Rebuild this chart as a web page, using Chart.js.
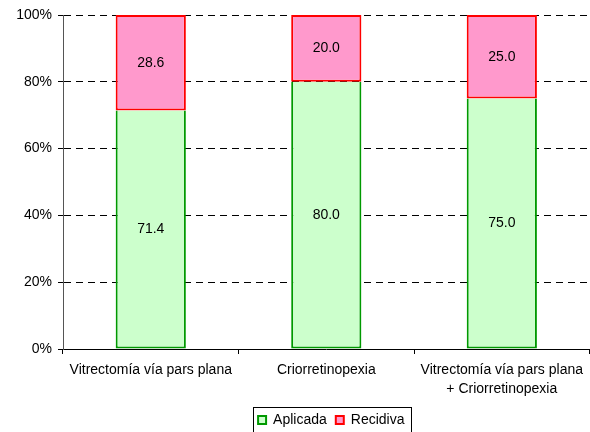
<!DOCTYPE html>
<html>
<head>
<meta charset="utf-8">
<script src="https://cdn.jsdelivr.net/npm/chart.js@4/dist/chart.umd.min.js"></script>
<style>
  html, body { margin: 0; padding: 0; background: #fff; }
  #wrap { width: 590px; height: 432px; }
</style>
</head>
<body>
<div id="wrap"><canvas id="chart"></canvas></div>
<script>
// categories and percentages
const categories = [
    "Vitrectomía vía pars plana",
    "Criorretinopexia",
    ["Vitrectomía vía pars plana", "+ Criorretinopexia"]
];
const aplicada = [71.4, 80.0, 75.0];
const recidiva = [28.6, 20.0, 25.0];
const yTicks = [0, 20, 40, 60, 80, 100];

const FONT = { family: "Arial, 'Liberation Sans', sans-serif", size: 14 };

// value written in the middle of every segment
const barLabels = {
    id: "barLabels",
    afterDatasetsDraw(chart) {
        const ctx = chart.ctx;
        ctx.save();
        ctx.font = `${FONT.size}px ${FONT.family}`;
        ctx.fillStyle = "#000";
        ctx.textAlign = "center";
        ctx.textBaseline = "middle";
        chart.data.datasets.forEach((ds, i) => {
            chart.getDatasetMeta(i).data.forEach((bar, j) => {
                const mid = (bar.y + bar.base) / 2;
                ctx.fillText(ds.data[j].toFixed(1), bar.x, mid);
            });
        });
        ctx.restore();
    }
};

// legend sits a little right of the plot centre in the original
const legendShift = {
    id: "legendShift",
    afterLayout(chart) {
        chart.legend.left += 5;
        chart.legend.right += 5;
    }
};

// frame round the legend, like the original
const legendFrame = {
    id: "legendFrame",
    afterDraw(chart) {
        const boxes = chart.legend.legendHitBoxes;
        if (!boxes || !boxes.length) return;
        const left = Math.min(...boxes.map(b => b.left)) - 5;
        const right = Math.max(...boxes.map(b => b.left + b.width)) + 7;
        const top = Math.min(...boxes.map(b => b.top)) - 6;
        const ctx = chart.ctx;
        ctx.save();
        ctx.strokeStyle = "#000";
        ctx.lineWidth = 1;
        ctx.strokeRect(Math.round(left) + 0.5, Math.round(top) + 0.5, Math.round(right - left), 40);
        ctx.restore();
    }
};

new Chart(document.getElementById("chart"), {
    type: "bar",
    data: {
        labels: categories,
        datasets: [
            {
                label: "Aplicada",
                data: aplicada,
                backgroundColor: "#CCFFCC",
                borderColor: "#009900",
                borderWidth: 2,
                borderSkipped: "top"
            },
            {
                label: "Recidiva",
                data: recidiva,
                backgroundColor: "#FF99CC",
                borderColor: "#FF0000",
                borderWidth: 2,
                borderSkipped: false
            }
        ]
    },
    options: {
        responsive: true,
        maintainAspectRatio: false,
        animation: false,
        layout: { padding: { top: 15, right: 0, left: 0, bottom: -5 } },
        datasets: {
            bar: { categoryPercentage: 1.0, barPercentage: 0.4 }
        },
        plugins: {
            tooltip: { enabled: false },
            legend: {
                position: "bottom",
                fullSize: false,
                labels: {
                    color: "#000",
                    font: FONT,
                    boxWidth: 8,
                    boxHeight: 8,
                    padding: 9,
                    useBorderRadius: false
                }
            }
        },
        scales: {
            x: {
                stacked: true,
                afterFit: (scale) => { scale.height = 55; },
                ticks: {
                    color: "#000",
                    font: { ...FONT, lineHeight: 1.35 },
                    padding: 7,
                    maxRotation: 0,
                    autoSkip: false
                },
                grid: {
                    display: true,
                    offset: true,
                    drawOnChartArea: false,
                    drawTicks: true,
                    tickLength: 5,
                    color: "#000"
                },
                border: { display: true, color: "#000", width: 1 }
            },
            y: {
                stacked: true,
                min: 0,
                max: 100,
                afterFit: (scale) => { scale.width = 63; },
                afterBuildTicks: (scale) => { scale.ticks = yTicks.map(v => ({ value: v })); },
                ticks: {
                    color: "#000",
                    font: FONT,
                    padding: 6,
                    callback: (v) => v + "%"
                },
                grid: {
                    color: "#000",
                    lineWidth: 1,
                    tickLength: 5
                },
                border: { display: true, color: "#555", width: 1, dash: [7, 5] }
            }
        }
    },
    plugins: [barLabels, legendShift, legendFrame]
});
</script>
</body>
</html>
